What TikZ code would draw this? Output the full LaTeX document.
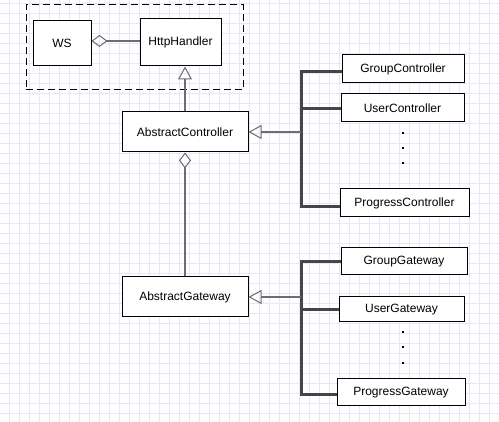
\documentclass[tikz,border=0pt]{standalone}
\usepackage{fontspec}
\setmainfont{Liberation Sans}
\usetikzlibrary{arrows.meta}
\definecolor{gridc}{RGB}{232,230,248}
\definecolor{conn}{RGB}{110,110,110}
\definecolor{busc}{RGB}{70,70,70}
\tikzset{
  cls/.style={draw=black, line width=1pt, fill=white, inner sep=0pt, font=\fontsize{12}{14}\selectfont},
  inh/.style={draw=conn, line width=2pt, -{Triangle[open, length=13pt, width=14pt, line width=1pt]}},
  agg/.style={draw=conn, line width=2pt, -{Diamond[open, length=16pt, width=12pt, line width=1pt]}},
  bus/.style={draw=busc, line width=3pt},
  pkg/.style={draw=black, line width=1pt, dash pattern=on 7pt off 4pt},
  dotc/.style={fill=black, inner sep=0pt, minimum size=2.2pt, rectangle}
}
\begin{document}
\begin{tikzpicture}[x=1pt, y=-1pt]
\useasboundingbox (0,0) rectangle (499,422);
\fill[white] (0,0) rectangle (499,422);
% grid
\foreach \gx in {9,19,...,499} \draw[gridc, line width=0.8pt] (\gx,0) -- (\gx,422);
\foreach \gy in {3,13,...,422} \draw[gridc, line width=0.8pt] (0,\gy) -- (499,\gy);
% package
\node[pkg, minimum width=217pt, minimum height=85pt, inner sep=0pt] (pk) at (134.5,47.5) {};
% classes
\node[cls, minimum width=58pt, minimum height=45pt] (ws) at (62,43.5) {WS};
\node[cls, minimum width=81pt, minimum height=47pt] (hh) at (180.5,42.5) {HttpHandler};
\node[cls, minimum width=126pt, minimum height=40pt] (ac) at (185,132) {AbstractController};
\node[cls, minimum width=126pt, minimum height=40pt] (ag) at (185,297) {AbstractGateway};
\node[cls, minimum width=122pt, minimum height=28pt] (gc) at (403,69) {GroupController};
\node[cls, minimum width=123pt, minimum height=28pt] (uc) at (402.5,108) {UserController};
\node[cls, minimum width=129pt, minimum height=28pt] (pc) at (404.5,203) {ProgressController};
\node[cls, minimum width=126pt, minimum height=27pt] (gg) at (404,261.5) {GroupGateway};
\node[cls, minimum width=125pt, minimum height=25pt] (ug) at (401.5,309.5) {UserGateway};
\node[cls, minimum width=128pt, minimum height=27pt] (pg) at (401,392.5) {ProgressGateway};
% dots
\node[dotc] (d1) at (403,133) {};
\node[dotc] (d2) at (403,148) {};
\node[dotc] (d3) at (403,163) {};
\node[dotc] (d4) at (403,332) {};
\node[dotc] (d5) at (403,347) {};
\node[dotc] (d6) at (403,363) {};
% aggregation WS <> HttpHandler
\coordinate (hw) at ([yshift=1.5pt]hh.west);
\draw[agg] (hw) -- (hw -| ws.east);
% inheritance AbstractController -> HttpHandler
\draw[inh] (ac.north) -- (ac.north |- hh.south);
% aggregation AbstractController <> AbstractGateway
\draw[agg] (ag.north) -- (ac.south);
% controller bus
\coordinate (cb1) at (301,72);
\coordinate (cb2) at (301,109);
\coordinate (cb3) at (301,207);
\coordinate (cbm) at (301,132);
\draw[bus] (cb1 -| gc.west) -- (cb1) -- (cb3) -- (cb3 -| pc.west);
\draw[bus] (cb2) -- (cb2 -| uc.west);
\draw[inh] (cbm) -- (ac.east);
% gateway bus
\coordinate (gb1) at (301,262);
\coordinate (gb2) at (301,310);
\coordinate (gb3) at (301,395);
\coordinate (gbm) at (301,297);
\draw[bus] (gb1 -| gg.west) -- (gb1) -- (gb3) -- (gb3 -| pg.west);
\draw[bus] (gb2) -- (gb2 -| ug.west);
\draw[inh] (gbm) -- (ag.east);
\end{tikzpicture}
\end{document}
